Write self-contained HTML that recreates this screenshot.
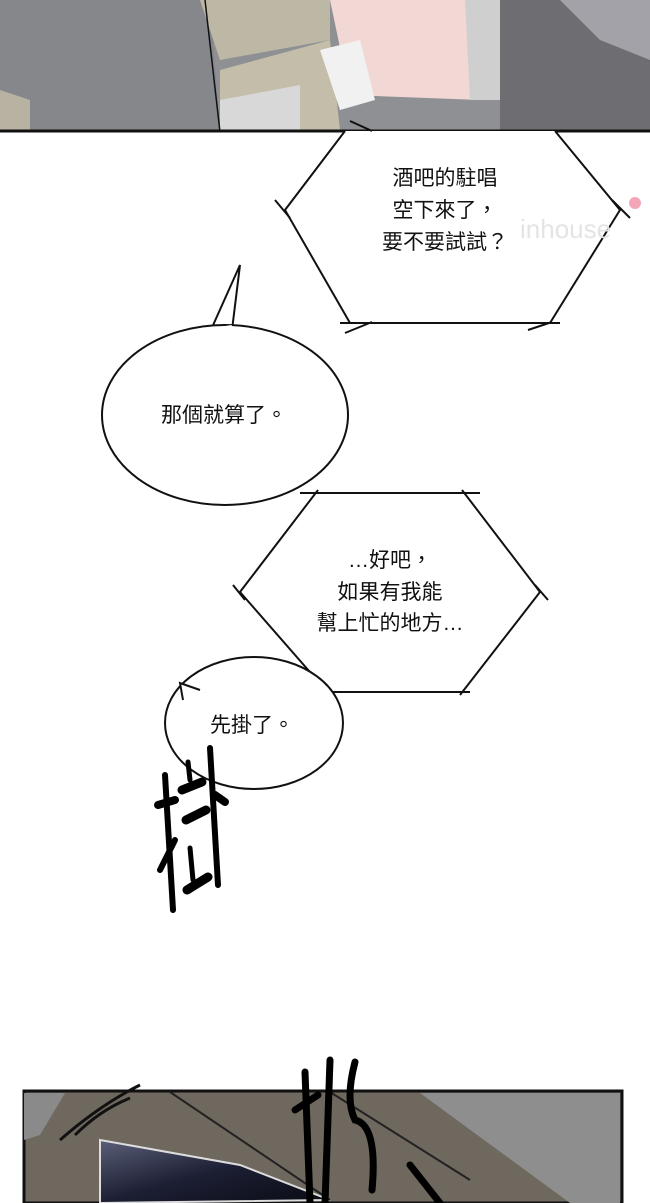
<!DOCTYPE html>
<html><head><meta charset="utf-8"><style>
html,body{margin:0;padding:0;background:#fff;}
svg{display:block}
text{font-family:"Liberation Sans","Noto Sans CJK TC",sans-serif;font-size:21px;fill:#111;text-anchor:middle}
</style></head><body>
<svg width="650" height="1203" viewBox="0 0 650 1203">
<defs>
<linearGradient id="g1" x1="0" y1="0" x2="1" y2="0">
<stop offset="0" stop-color="#8d8f93"/><stop offset="1" stop-color="#a8a8ae"/></linearGradient>
<linearGradient id="scr" x1="0" y1="0" x2="1" y2="1">
<stop offset="0" stop-color="#5a5f78"/><stop offset="0.5" stop-color="#1c1f33"/><stop offset="1" stop-color="#0a0b15"/></linearGradient>
</defs>
<!-- top panel -->
<rect x="0" y="0" width="650" height="132" fill="#8e9094"/>
<polygon points="0,0 210,0 220,132 0,132" fill="#85878b"/>
<polygon points="0,90 30,100 30,132 0,132" fill="#b7b2a2"/>
<polygon points="200,0 330,0 330,40 220,60" fill="#bdb8a6"/>
<polygon points="220,70 330,40 340,130 220,132" fill="#c3bda9"/>
<polygon points="220,100 300,85 300,132 220,132" fill="#d8d8d8"/>
<polygon points="330,0 470,0 480,100 350,95" fill="#f2d8d4"/>
<polygon points="320,50 360,40 375,100 340,110" fill="#f1f1f1"/>
<polygon points="465,0 500,0 500,100 470,100" fill="#cfcfcf"/>
<polygon points="500,0 650,0 650,132 500,132" fill="#6e6e72"/>
<polygon points="560,0 650,0 650,60 600,40" fill="#a2a2a8"/>
<line x1="0" y1="131" x2="650" y2="131" stroke="#111" stroke-width="3"/>
<line x1="205" y1="0" x2="220" y2="132" stroke="#111" stroke-width="1.5"/>
<!-- hexagon 1 -->
<polygon points="345,131 555,131 620,210 550,323 350,323 285,210" fill="#fff" stroke="none"/>
<path d="M345,131 L285,210 L350,323 M555,131 L620,210 L550,323" fill="none" stroke="#111" stroke-width="2"/>
<path d="M350,121 L372,131 M275,200 L290,218 M345,333 L372,322 M528,330 L552,322 M612,200 L630,218" stroke="#111" stroke-width="2"/>
<line x1="340" y1="323" x2="560" y2="323" stroke="#111" stroke-width="2"/>
<text x="445" y="185">酒吧的駐唱</text>
<text x="445" y="217">空下來了，</text>
<text x="445" y="249">要不要試試？</text>
<text x="520" y="238" style="font-size:26px;fill:#e4e4e4;text-anchor:start">inhouse</text>
<circle cx="635" cy="203" r="6" fill="#f3a6b8"/>
<!-- oval 1 -->
<path d="M210,332 L240,265 L232,330" fill="#fff" stroke="#111" stroke-width="2"/>
<ellipse cx="225" cy="415" rx="123" ry="90" fill="#fff" stroke="#111" stroke-width="2"/>
<path d="M212,330 L232,327" stroke="#fff" stroke-width="4"/>
<text x="224" y="422">那個就算了。</text>
<!-- hexagon 2 -->
<polygon points="315,493 465,493 540,592 460,692 330,692 240,592" fill="#fff" stroke="none"/>
<path d="M318,490 L240,592 L330,695 M462,490 L540,592 L460,695" fill="none" stroke="#111" stroke-width="2"/>
<line x1="300" y1="493" x2="480" y2="493" stroke="#111" stroke-width="2"/>
<line x1="320" y1="692" x2="470" y2="692" stroke="#111" stroke-width="2"/>
<path d="M233,585 L245,600 M535,585 L548,600" stroke="#111" stroke-width="2"/>
<text x="390" y="567">…好吧，</text>
<text x="390" y="599">如果有我能</text>
<text x="390" y="630">幫上忙的地方…</text>
<!-- oval 2 -->
<ellipse cx="254" cy="723" rx="89" ry="66" fill="#fff" stroke="#111" stroke-width="2"/>
<path d="M183,700 L180,683 L200,690" fill="#fff" stroke="#111" stroke-width="2"/>
<path d="M185,697 L197,692" stroke="#fff" stroke-width="4"/>
<text x="252" y="732">先掛了。</text>
<!-- SFX 掛 -->
<g stroke="#000" stroke-linecap="round" fill="none">
<path d="M165,775 L173,910" stroke-width="6"/>
<path d="M158,805 L175,800" stroke-width="8"/>
<path d="M160,870 L175,840" stroke-width="6"/>
<path d="M188,762 L190,780" stroke-width="5"/>
<path d="M182,790 L202,782" stroke-width="9"/>
<path d="M186,820 L206,810" stroke-width="9"/>
<path d="M190,848 L193,880" stroke-width="5"/>
<path d="M187,890 L208,877" stroke-width="9"/>
<path d="M210,748 L218,885" stroke-width="6"/>
<path d="M215,795 L225,802" stroke-width="8"/>
</g>
<!-- bottom panel -->
<rect x="24" y="1091" width="598" height="112" fill="#6f685e" stroke="#111" stroke-width="3"/>
<polygon points="24,1093 65,1093 40,1135 24,1140" fill="#8a8a8a"/>
<polygon points="420,1093 620,1093 620,1203 570,1203" fill="#8e8e8e"/>
<polygon points="100,1140 240,1165 330,1200 100,1203" fill="url(#scr)" stroke="#ddd" stroke-width="2"/>
<path d="M170,1092 L330,1200 M330,1092 L470,1180" stroke="#222" stroke-width="2"/>
<path d="M60,1140 Q100,1105 140,1085 M75,1135 Q100,1110 130,1098" stroke="#111" stroke-width="3" fill="none"/>
<g stroke="#000" stroke-width="7" stroke-linecap="round" fill="none">
<path d="M305,1072 L310,1203"/><path d="M295,1110 L318,1095"/><path d="M330,1060 L325,1203"/>
<path d="M355,1062 Q345,1100 355,1120 Q378,1125 372,1190"/>
<path d="M410,1165 L440,1203"/>
</g>
</svg>
</body></html>
